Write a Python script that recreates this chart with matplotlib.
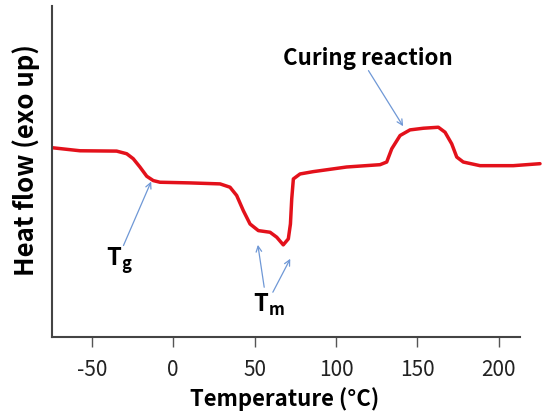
import matplotlib
matplotlib.use("Agg")
import matplotlib.pyplot as plt

# DSC curve (arbitrary heat flow units)
temperature = [-73.9, -57.2, -34.7, -28.5, -24.5, -20.4, -16.2, -12.2, -8.1, 10.3,
               28.8, 34.9, 39.0, 43.1, 47.2, 52.3, 59.5, 63.6, 67.6, 70.7,
               72.0, 72.8, 73.8, 77.9, 86.0, 106.5, 127.0, 131.1, 134.2, 139.3,
               145.4, 153.6, 162.8, 166.9, 171.0, 174.1, 178.1, 188.4, 208.8, 225.2]
heat_flow = [5.72, 5.63, 5.62, 5.54, 5.39, 5.14, 4.86, 4.73, 4.68, 4.66,
             4.63, 4.53, 4.28, 3.82, 3.42, 3.22, 3.17, 3.02, 2.79, 2.97,
             3.42, 4.18, 4.78, 4.93, 5.00, 5.14, 5.21, 5.29, 5.69, 6.09,
             6.26, 6.31, 6.34, 6.19, 5.84, 5.44, 5.29, 5.18, 5.18, 5.24]

xticks = [-50, 0, 50, 100, 150, 200]

plt.rcParams['font.family'] = ['Noto Sans CJK KR', 'DejaVu Sans']
plt.rcParams['axes.unicode_minus'] = False
plt.rcParams['mathtext.fontset'] = 'custom'
plt.rcParams['mathtext.bf'] = 'Noto Sans CJK KR:bold'
plt.rcParams['mathtext.rm'] = 'Noto Sans CJK KR'

fig = plt.figure(figsize=(5.44, 4.14), dpi=100)
ax = fig.add_axes([0.0961, 0.1829, 0.8597, 0.8002])

ax.plot(temperature, heat_flow, color='#e3111b', lw=2.5,
        solid_capstyle='round', solid_joinstyle='round', clip_on=False)

ax.set_xlim(-74.2, 212.9)
ax.set_ylim(0, 10)
ax.set_xticks(xticks)
ax.set_yticks([])
ax.tick_params(axis='x', length=7, width=1, color='#555555', labelsize=15,
               labelcolor='#222222', pad=8)

for s in ['top', 'right']:
    ax.spines[s].set_visible(False)
for s in ['left', 'bottom']:
    ax.spines[s].set_color('#444444')
    ax.spines[s].set_linewidth(1.5)

fig.text(0.523, 0.02, 'Temperature (°C)', fontsize=16, fontweight='bold',
         ha='center', va='baseline')
fig.text(0.048, 0.614, 'Heat flow (exo up)', fontsize=18.5, fontweight='bold',
         rotation=90, ha='center', va='center')

arrow = dict(arrowstyle='->', color='#6f98d6', lw=0.9, shrinkA=0, shrinkB=0)
ax.annotate('', xy=(141.2, 6.37), xytext=(119.9, 8.05), arrowprops=arrow)
ax.annotate('', xy=(-13.5, 4.70), xytext=(-30.5, 2.77), arrowprops=arrow)
ax.annotate('', xy=(52.0, 2.79), xytext=(55.9, 1.51), arrowprops=arrow)
ax.annotate('', xy=(71.9, 2.37), xytext=(61.2, 1.36), arrowprops=arrow)

ax.text(119.6, 8.46, 'Curing reaction', fontsize=16, fontweight='bold',
        ha='center', va='center')
ax.text(-33.0, 2.35, r'$\mathbf{T_g}$', fontsize=17, ha='center', va='center')
ax.text(59.0, 1.0, r'$\mathbf{T_m}$', fontsize=17, ha='center', va='center')

fig.savefig('out.png', dpi=100)
